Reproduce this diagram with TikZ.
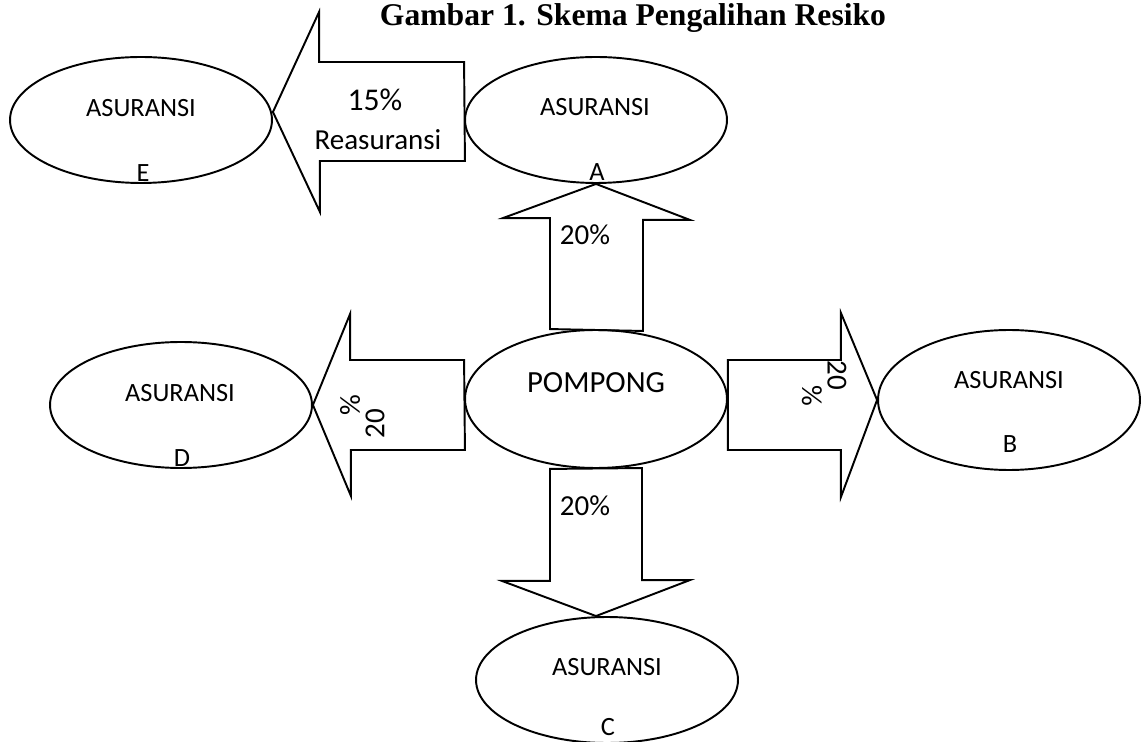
\documentclass[tikz,border=0pt]{standalone}
\usepackage{fontspec}
\setmainfont{Carlito}
\newfontfamily\titlefont{Liberation Serif}
\usepackage{tikz}
\usetikzlibrary{calc, shapes.geometric}

\begin{document}
\begin{tikzpicture}[
    x=0.02cm, y=-0.02cm,
    ins/.style = {draw, ellipse, line width=1.1pt, minimum width=5.24cm,
                  minimum height=2.52cm, inner sep=0pt},
    blk/.style = {draw, line width=1.1pt, line join=miter},
    lbl/.style = {inner sep=0pt, font=\fontsize{15}{18}\selectfont},
    big/.style = {inner sep=0pt, font=\fontsize{16.5}{20}\selectfont},
]
    \useasboundingbox (0,0) rectangle (1141,742);

    % ── Judul ──
    \node[inner sep=0pt, font=\titlefont\bfseries\fontsize{18}{21}\selectfont] (judul) at (633,18) {Gambar 1. Skema Pengalihan Resiko};

    % ── Elips ──
    \node[ins, minimum height=2.76cm] (pompong) at (596,399) {};
    \node[ins] (asA) at (596,120) {};
    \node[ins, minimum height=2.8cm] (asB) at (1009,400) {};
    \node[ins] (asC) at (607,680) {};
    \node[ins] (asD) at (181,405) {};
    \node[ins] (asE) at (141,120) {};

    % ── Teks dalam elips ──
    \node[big, font=\fontsize{17.5}{20}\selectfont] (tPom) at (596,383) {POMPONG};
    \node[lbl] (tA) at (595,107) {ASURANSI};
    \node[lbl] (hA) at (597,172) {A};
    \node[lbl] (tB) at (1009,380) {ASURANSI};
    \node[lbl] (hB) at (1010,444) {B};
    \node[lbl] (tC) at (607,667) {ASURANSI};
    \node[lbl] (hC) at (608,727) {C};
    \node[lbl] (tD) at (180,393) {ASURANSI};
    \node[lbl] (hD) at (182,458) {D};
    \node[lbl] (tE) at (141,108) {ASURANSI};
    \node[lbl] (hE) at (143,173) {E};

    % ── Panah blok ──
    % ke A
    \draw[blk] ($(pompong.north)+(-46,0)$) -- ++(0,-111) -- ++(-47,0) -- (asA.south)
        -- ++(94,36) -- ++(-47,0) -- ++(0,111) -- cycle;
    % ke C
    \draw[blk] ($(pompong.south)+(-46,0)$) -- ++(0,112) -- ++(-48,0) -- (pompong.south |- asC.north)
        -- ++(94,-36) -- ++(-48,0) -- ++(0,-112) -- cycle;
    % ke D
    \draw[blk] ($(pompong.west |- asD.east)+(0,-45)$) -- ++(-114,0) -- ++(0,-46) -- (asD.east)
        -- ++(38,91) -- ++(0,-46) -- ++(114,0) -- cycle;
    % ke B
    \draw[blk] ($(pompong.east |- asD.east)+(0,-45)$) -- ++(113,0) -- ++(0,-47) -- (asB.west)
        -- ($(pompong.east |- asD.east)+(113,92)$) -- ++(0,-47) -- ++(-113,0) -- cycle;
    % A ke E
    \draw[blk] ($(asA.west)+(0,-58)$) -- ++(-145,0) -- ++(0,-50) -- ($(asE.east)+(0,-8)$)
        -- ++(47,100) -- ++(0,-51) -- ++(145,0) -- cycle;

    % ── Persentase ──
    \node[big] (pA) at (585,235) {20\%};
    \node[big] (pC) at (585,506) {20\%};
    \node[big, rotate=90] (pD1) at (350,405) {\%};
    \node[big, rotate=90] (pD2) at (375,424) {20};
    \node[big, rotate=-90] (pB1) at (837,375) {20};
    \node[big, rotate=-90] (pB2) at (812,396) {\%};
    \node[big, font=\fontsize{18}{21}\selectfont] (pE1) at (375,100) {15\%};
    \node[big] (pE2) at (378,140) {Reasuransi};

\end{tikzpicture}
\end{document}
